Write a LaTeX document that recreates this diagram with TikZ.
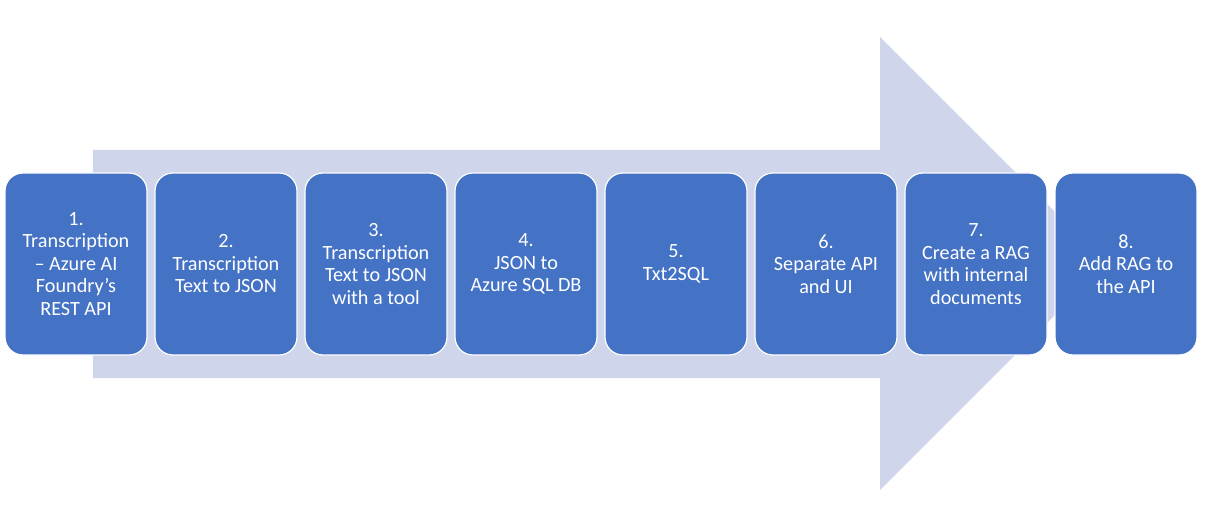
\documentclass[tikz,border=0pt]{standalone}
\usepackage{fontspec}
\setmainfont{Carlito}
\definecolor{stepblue}{HTML}{4472C4}
\definecolor{arrowfill}{HTML}{CFD5EA}
\begin{document}
\begin{tikzpicture}[x=1pt,y=-1pt,
  stepbox/.style={rectangle, rounded corners=18pt, minimum width=142pt, minimum height=182pt,
    fill=stepblue, draw=white, line width=1.2pt, text=white, align=center,
    font=\fontsize{20.2}{22.5}\selectfont, inner sep=0pt}]
\useasboundingbox (0,0) rectangle (1215,513);
% big background arrow
\fill[arrowfill] (93,150) -- (880,150) -- (880,37) -- (1106.5,263.5) -- (880,490) -- (880,378) -- (93,378) -- cycle;
\node[stepbox] (s1) at (76,264) {1.\\Transcription\\– Azure AI\\Foundry’s\\REST API};
\node[stepbox] (s2) at (226,264) {2.\\Transcription\\Text to JSON};
\node[stepbox] (s3) at (376,264) {3.\\Transcription\\Text to JSON\\with a tool};
\node[stepbox] (s4) at (526,264) {4.\\JSON to\\Azure SQL DB};
\node[stepbox] (s5) at (676,264) {5.\\Txt2SQL};
\node[stepbox] (s6) at (826,264) {6.\\Separate API\\and UI};
\node[stepbox] (s7) at (976,264) {7.\\Create a RAG\\with internal\\documents};
\node[stepbox] (s8) at (1126,264) {8.\\Add RAG to\\the API};
\end{tikzpicture}
\end{document}
